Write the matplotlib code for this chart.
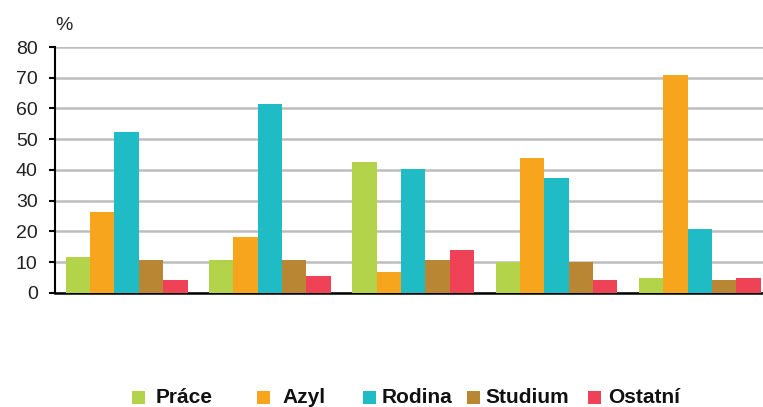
import matplotlib
matplotlib.use("Agg")
import matplotlib.pyplot as plt
import numpy as np
from matplotlib.patches import Rectangle

groups = ["1", "2", "3", "4", "5"]
series = ["Práce", "Azyl", "Rodina", "Studium", "Ostatní"]
prace = [11.7, 10.5, 42.4, 9.9, 4.7]
azyl = [26.2, 18.3, 6.6, 43.7, 71.0]
rodina = [52.2, 61.3, 40.4, 37.2, 20.9]
studium = [10.5, 10.5, 10.5, 9.9, 4.0]
ostatni = [4.0, 5.3, 13.9, 4.0, 4.7]
values = [prace, azyl, rodina, studium, ostatni]
colors = ["#B3D34A", "#F8A51E", "#1FBCC6", "#B98633", "#EF4257"]
yticks = [0, 10, 20, 30, 40, 50, 60, 70, 80]

W, H = 763, 407
fig = plt.figure(figsize=(W / 100, H / 100), dpi=100)
ax = fig.add_axes([55/W, 0.2808, 716.5/W, 0.6037])

x = np.arange(len(groups))
bw = 0.17
for i, (vals, c) in enumerate(zip(values, colors)):
    ax.bar(x + (i - 2) * bw, vals, width=bw, color=c, zorder=3, linewidth=0)

ax.set_xlim(-0.5, 4.5)
ax.set_ylim(0, 80)
ax.set_yticks(yticks)
ax.set_yticklabels([str(t) for t in yticks], fontsize=14, color="#222222",
                   family=["Liberation Sans", "DejaVu Sans"])
ax.set_xticks([])
ax.yaxis.grid(True, color="#BDBDBD", linewidth=1.8, zorder=0)
ax.set_axisbelow(True)
for s in ["top", "right"]:
    ax.spines[s].set_visible(False)
ax.spines["left"].set_linewidth(1.5)
ax.spines["bottom"].set_linewidth(1.8)
ax.tick_params(axis="y", length=4.5, width=1.5, pad=8)

fig.text(64/W, 1 - 25/H, "%", fontsize=14, ha="center", va="center",
         color="#222222", family=["Liberation Sans", "DejaVu Sans"])

# legend entries (square left edge, text left edge) in pixels
sq_x = [132, 257, 363, 467, 588]
tx_x = [156, 282, 382, 485, 608]
sq = 13
ycen = 397.5
for s, c, sx, tx in zip(series, colors, sq_x, tx_x):
    fig.patches.append(Rectangle((sx / W, 1 - (ycen + sq / 2) / H), sq / W, sq / H,
                                 transform=fig.transFigure, facecolor=c,
                                 edgecolor="none", figure=fig))
    fig.text(tx / W, 1 - 403 / H, s, fontsize=15, fontweight="bold", ha="left",
             va="baseline", color="#111111",
             family=["Liberation Sans", "DejaVu Sans"])

fig.savefig("out.png", dpi=100)
